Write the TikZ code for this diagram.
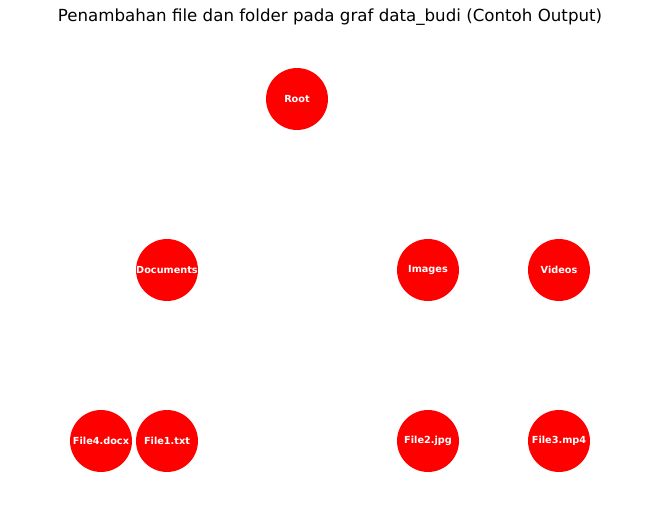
\documentclass[tikz,border=0pt]{standalone}
\usepackage{fontspec}
\setmainfont{DejaVu Sans}
\begin{document}
\begin{tikzpicture}[x=0.72pt,y=-0.72pt,
  fnode/.style={circle,fill=red,draw=none,minimum size=44.6pt,inner sep=0pt,text=white,font=\fontsize{7}{8}\selectfont\bfseries}]
\useasboundingbox[fill=white] (0,0) rectangle (660,520);
\node[font=\fontsize{12}{14}\selectfont] (title) at (330,17) {Penambahan file dan folder pada graf data\_budi (Contoh Output)};
\node[fnode] (root) at (297,99) {Root};
\node[fnode] (docs) at (167,270) {Documents};
\node[fnode] (imgs) at (428,270) {Images};
\node[fnode] (vids) at (559,270) {Videos};
\node[fnode] (f4) at (101,441) {File4.docx};
\node[fnode] (f1) at (167,441) {File1.txt};
\node[fnode] (f2) at (428,441) {File2.jpg};
\node[fnode] (f3) at (559,441) {File3.mp4};
\end{tikzpicture}
\end{document}
